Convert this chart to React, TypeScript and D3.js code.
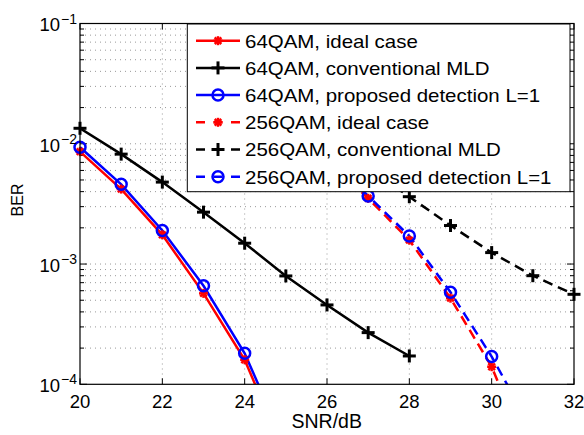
import React from 'react';
import * as d3 from 'd3';

const snr64 = [20, 21, 22, 23, 24, 25];
const ideal64 = [8.6e-3, 4.2e-3, 1.75e-3, 5.7e-4, 1.6e-4, 2.5e-5];
const prop64 = [9.35e-3, 4.6e-3, 1.9e-3, 6.6e-4, 1.81e-4, 3.0e-5];
const snrMld64 = [20, 21, 22, 23, 24, 25, 26, 27, 28];
const mld64 = [1.345e-2, 8.2e-3, 4.8e-3, 2.7e-3, 1.49e-3, 7.96e-4, 4.57e-4, 2.69e-4, 1.72e-4];
const snr256 = [26, 27, 28, 29, 30, 31];
const ideal256 = [7.5e-3, 3.52e-3, 1.58e-3, 5.2e-4, 1.4e-4, 2.1e-5];
const prop256 = [7.8e-3, 3.68e-3, 1.71e-3, 5.83e-4, 1.7e-4, 4.1e-5];
const snrMld256 = [27, 28, 29, 30, 31, 32];
const mld256 = [6.2e-3, 3.63e-3, 2.09e-3, 1.245e-3, 8.0e-4, 5.6e-4];

const xTicks = [20, 22, 24, 26, 28, 30, 32];
const yExps = [-1, -2, -3, -4];

const legendLabels = [
  '64QAM, ideal case',
  '64QAM, conventional MLD',
  '64QAM, proposed detection L=1',
  '256QAM, ideal case',
  '256QAM, conventional MLD',
  '256QAM, proposed detection L=1',
];

type Series = { x: number[]; y: number[]; color: string; dash?: string; marker: 'star' | 'plus' | 'circle' };
const series: Series[] = [
  { x: snr64, y: ideal64, color: '#ff0000', marker: 'star' },
  { x: snrMld64, y: mld64, color: '#000000', marker: 'plus' },
  { x: snr64, y: prop64, color: '#0000ff', marker: 'circle' },
  { x: snr256, y: ideal256, color: '#ff0000', dash: '10 6', marker: 'star' },
  { x: snrMld256, y: mld256, color: '#000000', dash: '10 6', marker: 'plus' },
  { x: snr256, y: prop256, color: '#0000ff', dash: '10 6', marker: 'circle' },
];

const W = 584, H = 435;
const L = 80, R = 574, T = 23.5, B = 384.3;
const FONT = '"Liberation Sans", Arial, Helvetica, sans-serif';

function Marker({ kind, cx, cy, color }: { kind: string; cx: number; cy: number; color: string }) {
  if (kind === 'circle') return <circle cx={cx} cy={cy} r={5.5} fill="none" stroke={color} strokeWidth={2.5} />;
  if (kind === 'plus') {
    const s = 6.5;
    return (
      <g stroke={color} strokeWidth={3}>
        <line x1={cx - s} y1={cy} x2={cx + s} y2={cy} />
        <line x1={cx} y1={cy - s} x2={cx} y2={cy + s} />
      </g>
    );
  }
  const s = 4.5, d = 3.3;
  return (
    <g stroke={color} strokeWidth={2.5}>
      <line x1={cx - s} y1={cy} x2={cx + s} y2={cy} />
      <line x1={cx} y1={cy - s} x2={cx} y2={cy + s} />
      <line x1={cx - d} y1={cy - d} x2={cx + d} y2={cy + d} />
      <line x1={cx - d} y1={cy + d} x2={cx + d} y2={cy - d} />
    </g>
  );
}

export default function App() {
  const x = d3.scaleLinear().domain([20, 32]).range([L, R]);
  const y = d3.scaleLog().domain([1e-4, 1e-1]).range([B, T]);

  const minor: number[] = [];
  for (let e = -4; e < -1; e++) for (let m = 1; m <= 9; m++) minor.push(m * Math.pow(10, e));
  minor.push(1e-1);

  const line = d3.line<[number, number]>().x(d => x(d[0])).y(d => y(d[1]));

  const legX = 187.3, legY = 24, legW = 382.7, legH = 167.7;
  const rowY = (i: number) => 40.7 + i * 27.2;

  return (
    <svg width={W} height={H} style={{ position: 'absolute', left: 0, top: 0 }} fontFamily={FONT}>
      <rect x={0} y={0} width={W} height={H} fill="#fff" />
      <defs>
        <clipPath id="plotclip"><rect x={L} y={T} width={R - L} height={B - T} /></clipPath>
      </defs>
      {/* grid */}
      <g stroke="#999" strokeWidth={1} strokeDasharray="1 4">
        {xTicks.slice(1, -1).map(t => <line key={'gx' + t} x1={x(t)} x2={x(t)} y1={T} y2={B} />)}
        {minor.slice(1, -1).map((v, i) => <line key={'gy' + i} x1={L} x2={R} y1={y(v)} y2={y(v)} />)}
      </g>
      {/* ticks */}
      <g stroke="#000" strokeWidth={1}>
        {xTicks.map(t => (
          <g key={'tx' + t}>
            <line x1={x(t)} x2={x(t)} y1={B} y2={B - 6} />
            <line x1={x(t)} x2={x(t)} y1={T} y2={T + 6} />
          </g>
        ))}
        {minor.map((v, i) => {
          const major = Math.abs(Math.log10(v) - Math.round(Math.log10(v))) < 1e-9;
          const len = major ? 7 : 4;
          return (
            <g key={'ty' + i}>
              <line x1={L} x2={L + len} y1={y(v)} y2={y(v)} />
              <line x1={R} x2={R - len} y1={y(v)} y2={y(v)} />
            </g>
          );
        })}
      </g>
      {/* series */}
      <g clipPath="url(#plotclip)" fill="none">
        {series.map((s, i) => (
          <path key={'l' + i} d={line(s.x.map((v, j) => [v, s.y[j]] as [number, number])) || ''}
            stroke={s.color} strokeWidth={2.5} strokeDasharray={s.dash} />
        ))}
      </g>
      {series.map((s, i) => (
        <g key={'m' + i}>
          {s.x.map((v, j) => (s.y[j] >= 1e-4 && s.y[j] <= 1e-1 ? (
            <Marker key={j} kind={s.marker} cx={x(v)} cy={y(s.y[j])} color={s.color} />
          ) : null))}
        </g>
      ))}
      {/* axes box */}
      <rect x={L} y={T} width={R - L} height={B - T} fill="none" stroke="#000" strokeWidth={1.2} />
      {/* x tick labels */}
      {xTicks.map(t => (
        <text key={'xl' + t} x={x(t)} y={408} fontSize={18.5} textAnchor="middle" fill="#000">{t}</text>
      ))}
      {/* y tick labels */}
      {yExps.map(e => {
        const yy = y(Math.pow(10, e));
        return (
          <g key={'yl' + e}>
            <text x={60} y={yy + 7.8} fontSize={18.5} textAnchor="end" fill="#000">10</text>
            <text x={61} y={yy} fontSize={14} fill="#000">{'\u2212' + Math.abs(e)}</text>
          </g>
        );
      })}
      {/* axis labels */}
      <text x={326.7} y={428} fontSize={19.5} textAnchor="middle" fill="#000">SNR/dB</text>
      <text transform="translate(23.3,200) rotate(-90)" fontSize={16} textAnchor="middle" fill="#000">BER</text>
      {/* legend */}
      <rect x={legX} y={legY} width={legW} height={legH} fill="#fff" stroke="#000" strokeWidth={1} />
      {series.map((s, i) => (
        <g key={'lg' + i}>
          <line x1={196} x2={240} y1={rowY(i)} y2={rowY(i)} stroke={s.color} strokeWidth={2.5}
            strokeDasharray={s.dash ? '9 8.5' : undefined} />
          <Marker kind={s.marker} cx={218} cy={rowY(i)} color={s.color} />
          <text transform={`translate(245,${rowY(i) + 6.8}) scale(1.1,1)`} fontSize={18.6} fill="#000">{legendLabels[i]}</text>
        </g>
      ))}
    </svg>
  );
}
